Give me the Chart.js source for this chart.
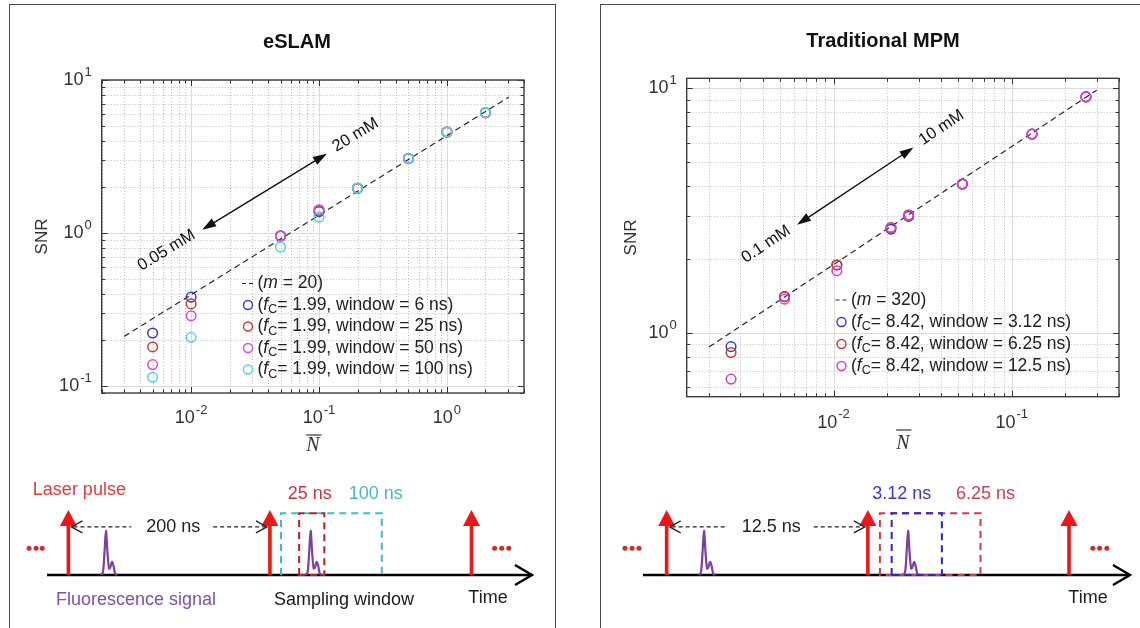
<!DOCTYPE html>
<html>
<head>
<meta charset="utf-8">
<title>SNR: eSLAM vs traditional MPM</title>
<script src="https://cdn.jsdelivr.net/npm/chart.js@4.4.1/dist/chart.umd.min.js"></script>
<style>
  html, body { margin: 0; padding: 0; background: #fff; }
  #wrap { position: relative; width: 1140px; height: 628px; overflow: hidden; }
  .frame { position: absolute; border: 1.5px solid #4a4a4a; }
  canvas { position: absolute; }
</style>
</head>
<body>
<div id="wrap">
  <div class="frame" style="left:9px;top:4px;width:545px;height:660px"></div>
  <div class="frame" style="left:600px;top:4px;width:580px;height:660px"></div>
  <canvas id="snrEslam" width="570" height="470" style="left:0;top:0"></canvas>
  <canvas id="timeEslam" width="570" height="158" style="left:0;top:470px"></canvas>
  <canvas id="snrMpm" width="555" height="470" style="left:585px;top:0"></canvas>
  <canvas id="timeMpm" width="555" height="158" style="left:585px;top:470px"></canvas>
</div>
<script>
const FONT = '"Liberation Sans", Arial, Helvetica, sans-serif';
const SERIF = '"Liberation Serif", "Times New Roman", serif';

// ---- eSLAM: SNR vs mean photon number ----
const nEslam = [0.005, 0.01, 0.05, 0.1, 0.2, 0.5, 1, 2];
const snrEslam6 = [0.222, 0.381, 0.96, 1.38, 1.96, 3.07, 4.57, 6.11];
const snrEslam25 = [0.18, 0.344, 0.955, 1.41, 1.96, 3.07, 4.57, 6.11];
const snrEslam50 = [0.138, 0.288, 0.955, 1.42, 1.96, 3.07, 4.57, 6.11];
const snrEslam100 = [0.114, 0.208, 0.81, 1.27, 1.96, 3.07, 4.57, 6.11];
const fitNEslam = [0.003, 3.04];
const fitSnrEslam = [0.211, 7.73];
const arrowNEslam = [0.0122, 0.115];
const arrowSnrEslam = [1.05, 3.3];
const concEslam = ['0.05 mM', '20 mM'];
const windowsEslam = ['6 ns', '25 ns', '50 ns', '100 ns'];
const xTicksEslam = [0.01, 0.1, 1];
const xTickLabelsEslam = ['10^-2', '10^-1', '10^0'];
const yTicksEslam = [0.1, 1, 10];
const yTickLabelsEslam = ['10^-1', '10^0', '10^1'];

// ---- traditional MPM ----
const nMpm = [0.00266, 0.00531, 0.01044, 0.021, 0.0264, 0.0528, 0.13, 0.261];
const snrMpm312 = [0.881, 1.41, 1.9, 2.66, 3.0, 4.07, 6.51, 9.24];
const snrMpm625 = [0.834, 1.41, 1.9, 2.7, 3.04, 4.07, 6.51, 9.24];
const snrMpm125 = [0.649, 1.377, 1.8, 2.7, 3.04, 4.07, 6.51, 9.24];
const fitNMpm = [0.002, 0.3];
const fitSnrMpm = [0.877, 9.84];
const arrowNMpm = [0.00624, 0.0281];
const arrowSnrMpm = [2.77, 5.74];
const concMpm = ['0.1 mM', '10 mM'];
const windowsMpm = ['3.12 ns', '6.25 ns', '12.5 ns'];
const xTicksMpm = [0.01, 0.1];
const xTickLabelsMpm = ['10^-2', '10^-1'];
const yTicksMpm = [1, 10];
const yTickLabelsMpm = ['10^0', '10^1'];

// ---- timing schematics (ns) ----
const laserEslam = [0, 200, 400];
const fluorEslam = [37.3, 240.4];          // peak times
const windowStartEslam = [211, 229];
const windowLenEslam = [100, 25];
const dotsEslam = [-39, -32, -26, 423, 430, 437];
const laserMpm = [0, 12.5, 25];
const fluorMpm = [2.32, 15.0];
const windowStartMpm = [13.25, 13.98];
const windowLenMpm = [6.25, 3.12];
const dotsMpm = [-2.59, -2.15, -1.72, 26.48, 26.9, 27.35];
// fluorescence trace shape: fraction of its span, relative height
const pulseU = [0, 0.12, 0.22, 0.31, 0.40, 0.50, 0.58, 0.68, 0.78, 0.88, 1.0];
const pulseA = [0, 0.04, 0.35, 0.68, 0.36, 0.1, 0.12, 0.2, 0.14, 0.02, 0];

function logSteps(min, max) {
  const out = [];
  for (let e = Math.floor(Math.log10(min)); e <= Math.ceil(Math.log10(max)); e++) {
    for (let m = 1; m <= 9; m++) {
      const v = m * Math.pow(10, e);
      if (v >= min * 0.999 && v <= max * 1.001) out.push({ v, major: m === 1 });
    }
  }
  return out;
}

const crisp = (v) => Math.round(v) + 0.5;

function gridLine(ctx, major, x1, y1, x2, y2) {
  ctx.strokeStyle = major ? '#dcdcdc' : '#bdbdbd';
  ctx.setLineDash(major ? [] : [1, 2]);
  ctx.beginPath();
  ctx.moveTo(x1, y1);
  ctx.lineTo(x2, y2);
  ctx.stroke();
}

// "10^-2" -> 10 with a raised exponent
function powLabel(ctx, txt, x, y, align) {
  const [base, exp] = txt.split('^');
  ctx.font = '18px ' + FONT;
  const wb = ctx.measureText(base).width;
  ctx.font = '13px ' + FONT;
  const we = ctx.measureText(exp).width;
  const w = wb + we + 1;
  const x0 = align === 'right' ? x - w : x - w / 2;
  ctx.textAlign = 'left';
  ctx.textBaseline = 'middle';
  ctx.font = '18px ' + FONT;
  ctx.fillText(base, x0, y);
  ctx.font = '13px ' + FONT;
  ctx.fillText(exp, x0 + wb + 1, y - 8);
}

function richText(ctx, parts, x, y) {
  let cx = x;
  ctx.textAlign = 'left';
  ctx.textBaseline = 'middle';
  parts.forEach(([txt, style]) => {
    let dy = 0;
    if (style === 'i') ctx.font = 'italic 17.5px ' + FONT;
    else if (style === 'sub') { ctx.font = '12.5px ' + FONT; dy = 5; }
    else ctx.font = '17.5px ' + FONT;
    ctx.fillText(txt, cx, y + dy);
    cx += ctx.measureText(txt).width;
  });
}

function arrowHead(ctx, x, y, ang, len, half) {
  ctx.beginPath();
  ctx.moveTo(x, y);
  ctx.lineTo(x - len * Math.cos(ang) + half * Math.sin(ang), y - len * Math.sin(ang) - half * Math.cos(ang));
  ctx.lineTo(x - len * Math.cos(ang) - half * Math.sin(ang), y - len * Math.sin(ang) + half * Math.cos(ang));
  ctx.closePath();
  ctx.fill();
}

function concArrow(ctx, x1, y1, x2, y2, labels) {
  const ang = Math.atan2(y2 - y1, x2 - x1);
  const ux = Math.cos(ang), uy = Math.sin(ang);
  ctx.strokeStyle = '#111';
  ctx.fillStyle = '#111';
  ctx.lineWidth = 1.4;
  ctx.setLineDash([]);
  ctx.beginPath();
  ctx.moveTo(x1 + ux * 10, y1 + uy * 10);
  ctx.lineTo(x2 - ux * 10, y2 - uy * 10);
  ctx.stroke();
  arrowHead(ctx, x2, y2, ang, 14, 4.5);
  arrowHead(ctx, x1, y1, ang + Math.PI, 14, 4.5);
  ctx.font = '16.5px ' + FONT;
  ctx.textAlign = 'center';
  ctx.textBaseline = 'middle';
  [[x1, y1, -1, labels[0]], [x2, y2, 1, labels[1]]].forEach(([px, py, dir, t]) => {
    const d = ctx.measureText(t).width / 2 + 9;
    ctx.save();
    ctx.translate(px + dir * ux * d, py + dir * uy * d);
    ctx.rotate(ang);
    ctx.fillText(t, 0, -1);
    ctx.restore();
  });
}

const snrDecor = (p) => ({
  id: 'snrDecor',
  beforeDatasetsDraw(chart) {
    const { ctx, chartArea: a, scales: { x, y } } = chart;
    ctx.save();
    ctx.fillStyle = '#fff';
    ctx.fillRect(a.left, a.top, a.width, a.height);
    ctx.beginPath();
    ctx.rect(a.left, a.top, a.width, a.height);
    ctx.clip();
    ctx.lineWidth = 1;
    logSteps(x.min, x.max).forEach(s => {
      const px = crisp(x.getPixelForValue(s.v));
      gridLine(ctx, s.major, px, a.top, px, a.bottom);
    });
    logSteps(y.min, y.max).forEach(s => {
      const py = crisp(y.getPixelForValue(s.v));
      gridLine(ctx, s.major, a.left, py, a.right, py);
    });
    ctx.restore();
  },
  afterDatasetsDraw(chart) {
    const { ctx, chartArea: a, scales: { x, y } } = chart;
    const L = p.layout;
    ctx.save();
    ctx.setLineDash([]);

    // inward ticks on all four sides
    ctx.strokeStyle = '#333';
    ctx.lineWidth = 1;
    ctx.beginPath();
    logSteps(x.min, x.max).forEach(s => {
      const px = crisp(x.getPixelForValue(s.v));
      const t = s.major ? 6 : 3.5;
      ctx.moveTo(px, a.bottom); ctx.lineTo(px, a.bottom - t);
      ctx.moveTo(px, a.top); ctx.lineTo(px, a.top + t);
    });
    logSteps(y.min, y.max).forEach(s => {
      const py = crisp(y.getPixelForValue(s.v));
      const t = s.major ? 6 : 3.5;
      ctx.moveTo(a.left, py); ctx.lineTo(a.left + t, py);
      ctx.moveTo(a.right, py); ctx.lineTo(a.right - t, py);
    });
    ctx.stroke();
    ctx.strokeStyle = '#3c3c3c';
    ctx.lineWidth = 1.4;
    ctx.strokeRect(a.left, a.top, a.width, a.height);

    ctx.fillStyle = '#333';
    p.xTicks.forEach((v, i) => powLabel(ctx, p.xTickLabels[i], x.getPixelForValue(v), a.bottom + L.xTickDy, 'center'));
    p.yTicks.forEach((v, i) => powLabel(ctx, p.yTickLabels[i], a.left - 10, y.getPixelForValue(v), 'right'));

    ctx.fillStyle = '#111';
    ctx.font = 'bold 20px ' + FONT;
    ctx.textAlign = 'center';
    ctx.textBaseline = 'middle';
    ctx.fillText(p.title, L.titleX, L.titleY);

    ctx.fillStyle = '#333';
    ctx.save();
    ctx.translate(L.ylabelX, (a.top + a.bottom) / 2);
    ctx.rotate(-Math.PI / 2);
    ctx.font = '17px ' + FONT;
    ctx.fillText('SNR', 0, 0);
    ctx.restore();

    const cx = (a.left + a.right) / 2;
    ctx.font = 'italic 20px ' + SERIF;
    ctx.fillText('N', cx, L.xlabelY);
    const wN = ctx.measureText('N').width;
    ctx.strokeStyle = '#333';
    ctx.lineWidth = 1.2;
    ctx.beginPath();
    ctx.moveTo(cx - wN / 2, L.barY);
    ctx.lineTo(cx + wN / 2 + 2, L.barY);
    ctx.stroke();

    concArrow(ctx,
      x.getPixelForValue(p.arrowN[0]), y.getPixelForValue(p.arrowSnr[0]),
      x.getPixelForValue(p.arrowN[1]), y.getPixelForValue(p.arrowSnr[1]), p.conc);

    // legend
    const mx = L.legendX;
    let ly = L.legendY;
    ctx.strokeStyle = '#222';
    ctx.lineWidth = 1.2;
    ctx.beginPath();
    ctx.moveTo(mx - 6, ly); ctx.lineTo(mx - 2, ly);
    ctx.moveTo(mx + 1, ly); ctx.lineTo(mx + 5, ly);
    ctx.stroke();
    ctx.fillStyle = '#222';
    richText(ctx, [['('], ['m', 'i'], [' = ' + p.m + ')']], mx + 9.5, ly);
    p.series.forEach((s, i) => {
      ly += L.legendDy;
      ctx.strokeStyle = s.color;
      ctx.lineWidth = 1.4;
      ctx.beginPath();
      ctx.arc(mx, ly, 4.5, 0, Math.PI * 2);
      ctx.stroke();
      ctx.fillStyle = '#222';
      richText(ctx, [['('], ['f', 'i'], ['C', 'sub'], ['= ' + p.fc + ', window = ' + p.windows[i] + ')']], mx + 9.5, ly);
    });
    ctx.restore();
  }
});

function snrChart(id, p) {
  const datasets = [{
    type: 'line',
    data: p.fitN.map((v, i) => ({ x: v, y: p.fitSnr[i] })),
    borderColor: '#2a2a2a',
    borderWidth: 1.2,
    borderDash: [6, 4],
    pointRadius: 0,
    fill: false,
    order: 100
  }];
  p.series.forEach((s, i) => datasets.push({
    data: s.n.map((v, j) => ({ x: v, y: s.snr[j] })),
    borderColor: s.color,
    backgroundColor: 'rgba(0,0,0,0)',
    pointRadius: 4.8,
    pointBorderWidth: 1.5,
    order: 50 - i
  }));
  return new Chart(document.getElementById(id), {
    type: 'scatter',
    data: { datasets },
    options: {
      responsive: false,
      animation: false,
      devicePixelRatio: 1,
      layout: { padding: p.layout.pad },
      scales: {
        x: { type: 'logarithmic', min: p.xRange[0], max: p.xRange[1], display: false },
        y: { type: 'logarithmic', min: p.yRange[0], max: p.yRange[1], display: false }
      },
      plugins: { legend: { display: false }, tooltip: { enabled: false } }
    },
    plugins: [snrDecor(p)]
  });
}

const timeDecor = (p) => ({
  id: 'timeDecor',
  beforeDatasetsDraw(chart) {
    const { ctx, chartArea: a, scales: { y } } = chart;
    const y0 = y.getPixelForValue(0);
    const xs = a.left + p.layout.axisFrom, xe = a.right - p.layout.axisTo;
    ctx.save();
    ctx.strokeStyle = '#000';
    ctx.lineWidth = 2.6;
    ctx.beginPath();
    ctx.moveTo(xs, y0);
    ctx.lineTo(xe, y0);
    ctx.stroke();
    ctx.lineWidth = 2.4;
    ctx.beginPath();
    ctx.moveTo(xe - 17, y0 - 10);
    ctx.lineTo(xe, y0);
    ctx.lineTo(xe - 17, y0 + 10);
    ctx.stroke();
    ctx.restore();
  },
  afterDatasetsDraw(chart) {
    const { ctx, scales: { x, y } } = chart;
    const y0 = y.getPixelForValue(0);
    ctx.save();
    ctx.textAlign = 'center';
    ctx.textBaseline = 'middle';

    // sampling windows
    p.winStart.forEach((t, i) => {
      const st = p.winStyle[i];
      const xa = x.getPixelForValue(t), xb = x.getPixelForValue(t + p.winLen[i]);
      const yt = y.getPixelForValue(0.95);
      ctx.strokeStyle = st.color;
      ctx.lineWidth = 2;
      ctx.setLineDash([7, 5]);
      ctx.beginPath();
      ctx.moveTo(xa, y0);
      ctx.lineTo(xa, yt);
      ctx.lineTo(xb, yt);
      ctx.lineTo(xb, y0);
      if (!st.open) ctx.closePath();
      ctx.stroke();
      const ref = st.ref === 'start' ? xa : st.ref === 'end' ? xb : (xa + xb) / 2;
      ctx.fillStyle = st.text;
      ctx.font = '18px ' + FONT;
      ctx.fillText(p.winLen[i] + ' ns', ref + st.dx, y.getPixelForValue(1.24));
    });
    ctx.setLineDash([]);

    // laser pulses
    p.laser.forEach(t => {
      const px = x.getPixelForValue(t), yt = y.getPixelForValue(1);
      ctx.strokeStyle = '#ee1616';
      ctx.fillStyle = '#ee1616';
      ctx.lineWidth = 3.6;
      ctx.beginPath();
      ctx.moveTo(px, y0);
      ctx.lineTo(px, yt + 12);
      ctx.stroke();
      ctx.beginPath();
      ctx.moveTo(px, yt);
      ctx.lineTo(px - 8.5, yt + 16);
      ctx.lineTo(px + 8.5, yt + 16);
      ctx.closePath();
      ctx.fill();
    });

    ctx.fillStyle = '#d42a2a';
    p.dots.forEach(t => {
      ctx.beginPath();
      ctx.arc(x.getPixelForValue(t), y.getPixelForValue(0.41), 2.5, 0, Math.PI * 2);
      ctx.fill();
    });

    // repetition period between the first two pulses
    const pa = x.getPixelForValue(p.laser[0]) + 3, pb = x.getPixelForValue(p.laser[1]) - 3;
    const py = y.getPixelForValue(0.74);
    const label = (p.laser[1] - p.laser[0]) + ' ns';
    ctx.font = '18px ' + FONT;
    const w = ctx.measureText(label).width;
    const mid = (pa + pb) / 2 + 4;
    ctx.strokeStyle = '#222';
    ctx.lineWidth = 1.3;
    ctx.setLineDash([4, 3]);
    ctx.beginPath();
    ctx.moveTo(pa + 2, py); ctx.lineTo(mid - w / 2 - 15, py);
    ctx.moveTo(mid + w / 2 + 13, py); ctx.lineTo(pb - 2, py);
    ctx.stroke();
    ctx.setLineDash([]);
    ctx.beginPath();
    ctx.moveTo(pa + 11, py - 6); ctx.lineTo(pa, py); ctx.lineTo(pa + 11, py + 6);
    ctx.moveTo(pb - 11, py - 6); ctx.lineTo(pb, py); ctx.lineTo(pb - 11, py + 6);
    ctx.stroke();
    ctx.fillStyle = '#222';
    ctx.fillText(label, mid, py);

    p.notes.forEach(n => {
      ctx.fillStyle = n.color;
      ctx.font = '18px ' + FONT;
      ctx.fillText(n.text, x.getPixelForValue(n.at) + n.dx, y.getPixelForValue(n.y));
    });
    ctx.restore();
  }
});

function timeChart(id, p) {
  const datasets = p.fluor.map(t0 => ({
    type: 'line',
    data: pulseU.map((u, i) => ({ x: t0 + (u - 0.31) * p.fluorSpan, y: pulseA[i] })),
    borderColor: '#7b3fa8',
    borderWidth: 2.2,
    pointRadius: 0,
    tension: 0.35,
    fill: false,
    clip: false
  }));
  return new Chart(document.getElementById(id), {
    type: 'scatter',
    data: { datasets },
    options: {
      responsive: false,
      animation: false,
      devicePixelRatio: 1,
      layout: { padding: p.layout.pad },
      scales: {
        x: { type: 'linear', min: p.tRange[0], max: p.tRange[1], display: false },
        y: { type: 'linear', min: 0, max: 1, display: false }
      },
      plugins: { legend: { display: false }, tooltip: { enabled: false } }
    },
    plugins: [timeDecor(p)]
  });
}

snrChart('snrEslam', {
  title: 'eSLAM', m: 20, fc: '1.99', windows: windowsEslam, conc: concEslam,
  xRange: [0.002, 4], yRange: [0.09, 10],
  xTicks: xTicksEslam, xTickLabels: xTickLabelsEslam, yTicks: yTicksEslam, yTickLabels: yTickLabelsEslam,
  fitN: fitNEslam, fitSnr: fitSnrEslam, arrowN: arrowNEslam, arrowSnr: arrowSnrEslam,
  series: [
    { n: nEslam, snr: snrEslam6, color: '#3a3ac4' },
    { n: nEslam, snr: snrEslam25, color: '#c73a3a' },
    { n: nEslam, snr: snrEslam50, color: '#d84fd8' },
    { n: nEslam, snr: snrEslam100, color: '#4fd6e0' }
  ],
  layout: {
    pad: { left: 101.7, top: 80, right: 46, bottom: 77 },
    xTickDy: 25, titleX: 297, titleY: 42, ylabelX: 42, xlabelY: 446, barY: 435,
    legendX: 248, legendY: 283.5, legendDy: 21.5
  }
});

snrChart('snrMpm', {
  title: 'Traditional MPM', m: 320, fc: '8.42', windows: windowsMpm, conc: concMpm,
  xRange: [0.0015, 0.4], yRange: [0.55, 11],
  xTicks: xTicksMpm, xTickLabels: xTickLabelsMpm, yTicks: yTicksMpm, yTickLabels: yTickLabelsMpm,
  fitN: fitNMpm, fitSnr: fitSnrMpm, arrowN: arrowNMpm, arrowSnr: arrowSnrMpm,
  series: [
    { n: nMpm, snr: snrMpm312, color: '#3a3ac4' },
    { n: nMpm, snr: snrMpm625, color: '#c73a3a' },
    { n: nMpm, snr: snrMpm125, color: '#d83cd0' }
  ],
  layout: {
    pad: { left: 101.7, top: 78.3, right: 21, bottom: 73.3 },
    xTickDy: 26, titleX: 298, titleY: 41, ylabelX: 46.7, xlabelY: 443.5, barY: 430,
    legendX: 256.5, legendY: 300, legendDy: 22
  }
});

timeChart('timeEslam', {
  tRange: [-48, 468], laser: laserEslam, fluor: fluorEslam, fluorSpan: 16,
  winStart: windowStartEslam, winLen: windowLenEslam, dots: dotsEslam,
  winStyle: [
    { color: '#3bbecb', text: '#45b9c8', ref: 'end', dx: -6, open: true },
    { color: '#b3202e', text: '#d2343f', ref: 'mid', dx: -2, open: false }
  ],
  notes: [
    { text: 'Laser pulse', color: '#e63a3a', at: laserEslam[0], dx: 11, y: 1.31 },
    { text: 'Fluorescence signal', color: '#7d4fae', at: fluorEslam[0], dx: 30, y: -0.385 },
    { text: 'Sampling window', color: '#1a1a1a', at: laserEslam[1], dx: 74, y: -0.385 },
    { text: 'Time', color: '#222', at: laserEslam[2], dx: 16.5, y: -0.354 }
  ],
  layout: { pad: { left: 20, right: 30, top: 40, bottom: 53 }, axisFrom: 27, axisTo: 8 }
});

timeChart('timeMpm', {
  tRange: [-2.9, 29.1], laser: laserMpm, fluor: fluorMpm, fluorSpan: 1.0,
  winStart: windowStartMpm, winLen: windowLenMpm, dots: dotsMpm,
  winStyle: [
    { color: '#d23a48', text: '#d2404c', ref: 'end', dx: 5, open: false },
    { color: '#2626d6', text: '#3a3ad0', ref: 'start', dx: 10, open: false }
  ],
  notes: [
    { text: 'Time', color: '#222', at: laserMpm[2], dx: 19, y: -0.354 }
  ],
  layout: { pad: { left: 35, right: 5, top: 40, bottom: 53 }, axisFrom: 23, axisTo: 5 }
});
</script>
</body>
</html>
